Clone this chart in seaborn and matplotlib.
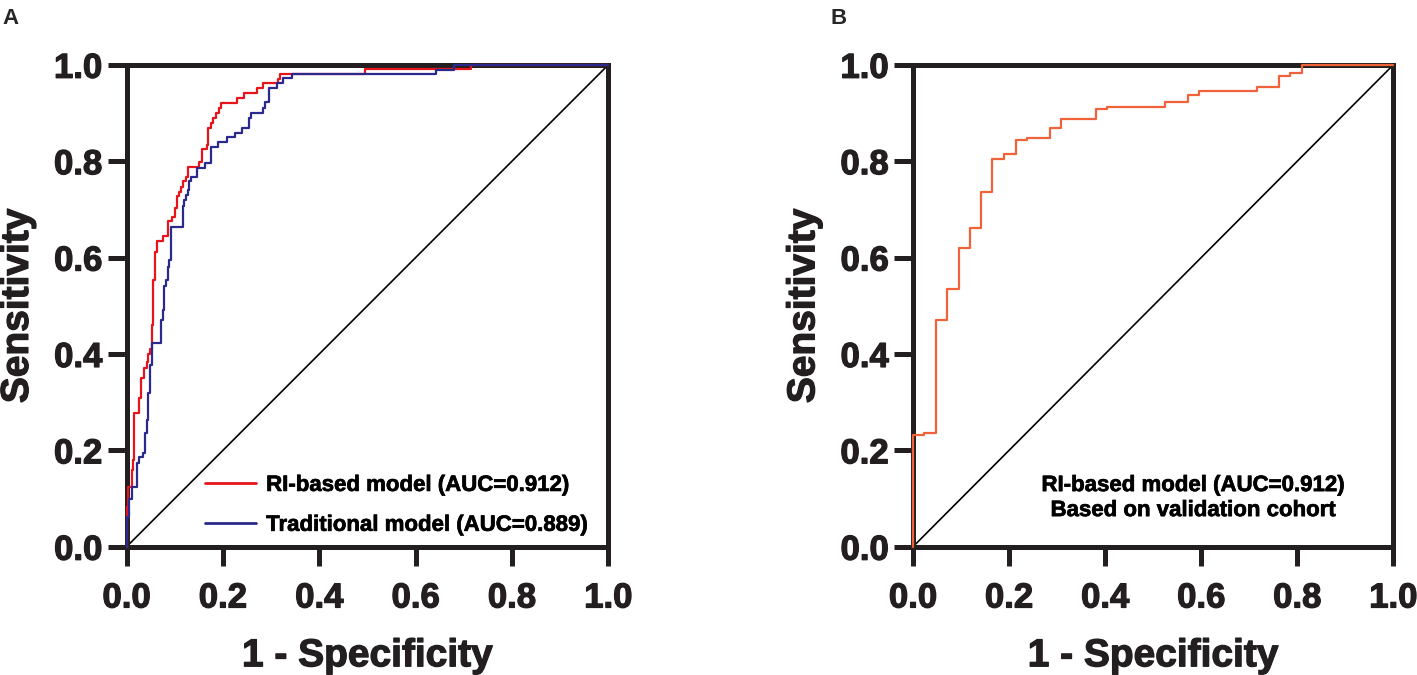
import pandas as pd
import seaborn as sns
import matplotlib.pyplot as plt
import matplotlib.patheffects as pe

# Panel A: training cohort ROC curves (1 - specificity, sensitivity at each step)
ri_fpr = [0.0, 0.0, 0.0035, 0.0104, 0.0125, 0.0153, 0.0264, 0.0291, 0.0368, 0.0416,
          0.0451, 0.0486, 0.052, 0.0555, 0.059, 0.0638, 0.0749, 0.0867, 0.0937, 0.1006,
          0.1054, 0.1089, 0.1131, 0.1165, 0.1235, 0.127, 0.1505, 0.1561, 0.1665, 0.170,
          0.1755, 0.1804, 0.1859, 0.1915, 0.1956, 0.229, 0.244, 0.2705, 0.2823, 0.3143,
          0.319, 0.494, 0.716, 1.0]
ri_tpr = [0.0, 0.083, 0.125, 0.16, 0.18, 0.277, 0.308, 0.35, 0.37, 0.384,
          0.40, 0.41, 0.46, 0.554, 0.612, 0.635, 0.645, 0.675, 0.685, 0.702,
          0.727, 0.737, 0.747, 0.758, 0.768, 0.787, 0.799, 0.826, 0.834, 0.869,
          0.879, 0.889, 0.901, 0.910, 0.920, 0.931, 0.941, 0.952, 0.962, 0.970,
          0.981, 0.991, 1.0, 1.0]

trad_fpr = [0.0, 0.0014, 0.0055, 0.0104, 0.0222, 0.0264, 0.0347, 0.0382, 0.0416, 0.0451,
            0.0486, 0.052, 0.0715, 0.0749, 0.0784, 0.0819, 0.086, 0.0888, 0.0916, 0.1165,
            0.12, 0.1235, 0.127, 0.1304, 0.1332, 0.1457, 0.163, 0.1755, 0.1908, 0.2095,
            0.2255, 0.2393, 0.2532, 0.258, 0.2823, 0.2879, 0.2962, 0.3122, 0.3247, 0.3434,
            0.642, 0.679, 1.0]
trad_tpr = [0.0, 0.062, 0.10, 0.125, 0.173, 0.187, 0.194, 0.235, 0.263, 0.318,
            0.377, 0.422, 0.471, 0.491, 0.54, 0.554, 0.581, 0.595, 0.664, 0.706,
            0.72, 0.73, 0.74, 0.758, 0.767, 0.785, 0.796, 0.829, 0.839, 0.85,
            0.858, 0.869, 0.889, 0.90, 0.91, 0.922, 0.952, 0.962, 0.972, 0.981,
            0.99, 1.0, 1.0]

# Panel B: validation cohort
val_fpr = [0.0, 0.0, 0.0229, 0.0472, 0.0715, 0.0951, 0.118, 0.1424, 0.1653, 0.1896,
           0.2139, 0.2375, 0.2847, 0.309, 0.3806, 0.4042, 0.5243, 0.5715, 0.5958, 0.7153,
           0.7618, 0.7847, 0.8104, 1.0]
val_tpr = [0.0, 0.231, 0.236, 0.471, 0.535, 0.619, 0.662, 0.736, 0.804, 0.814,
           0.843, 0.849, 0.868, 0.888, 0.908, 0.913, 0.923, 0.938, 0.946, 0.953,
           0.976, 0.982, 1.0, 1.0]

ticks = [0.0, 0.2, 0.4, 0.6, 0.8, 1.0]

sns.set_style("ticks")
plt.rcParams['font.family'] = ['Liberation Sans', 'DejaVu Sans']
plt.rcParams['font.weight'] = 'bold'

ink = "#231F20"
heavy = [pe.withStroke(linewidth=0.9, foreground=ink)]

fig = plt.figure(figsize=(14.17, 6.75), dpi=100)
ax_a = fig.add_axes([0.0893, 0.190, 0.340, 0.714])
ax_b = fig.add_axes([0.6443, 0.190, 0.3390, 0.714])

df_ri = pd.DataFrame({"fpr": ri_fpr, "tpr": ri_tpr})
df_trad = pd.DataFrame({"fpr": trad_fpr, "tpr": trad_tpr})
df_val = pd.DataFrame({"fpr": val_fpr, "tpr": val_tpr})

for ax in (ax_a, ax_b):
    ax.plot([0, 1], [0, 1], color="black", lw=1.2, zorder=1)

line_kw = dict(estimator=None, sort=False, drawstyle="steps-post", lw=1.6,
               clip_on=False, zorder=5)
sns.lineplot(data=df_ri, x="fpr", y="tpr", ax=ax_a, color="#E8141C",
             label="RI-based model (AUC=0.912)", **line_kw)
sns.lineplot(data=df_trad, x="fpr", y="tpr", ax=ax_a, color="#2A2A8C",
             label="Traditional model (AUC=0.889)", **line_kw)
sns.lineplot(data=df_val, x="fpr", y="tpr", ax=ax_b, color="#F0623A", **line_kw)

for ax in (ax_a, ax_b):
    ax.set_xlim(0, 1)
    ax.set_ylim(0, 1)
    ax.set_xticks(ticks)
    ax.set_yticks(ticks)
    ax.set_xticklabels([f"{t:.1f}" for t in ticks], fontsize=25, fontweight="bold")
    ax.set_yticklabels([f"{t:.1f}" for t in ticks], fontsize=25, fontweight="bold")
    for lab in ax.get_xticklabels() + ax.get_yticklabels():
        lab.set_path_effects(heavy)
    ax.tick_params(direction="out", length=14, width=3.6, color=ink, labelcolor=ink)
    ax.tick_params(axis="x", pad=11)
    ax.tick_params(axis="y", pad=3.5)
    for s in ax.spines.values():
        s.set_linewidth(3.6)
        s.set_color(ink)
    ax.set_xlabel("1 - Specificity", fontsize=28, fontweight="bold",
                  color=ink, path_effects=heavy, va="baseline")
    ax.xaxis.set_label_coords(0.5, -0.248)
    ax.set_ylabel("Sensitivity", fontsize=28, fontweight="bold",
                  color=ink, labelpad=13, path_effects=heavy)

leg = ax_a.legend(loc="lower right", bbox_to_anchor=(0.985, -0.005), frameon=False,
                  prop={"size": 16, "weight": "bold"}, handlelength=2.3,
                  handletextpad=0.45, labelspacing=0.85, borderaxespad=0.2)
for h in leg.get_lines():
    h.set_linewidth(2.0)
for t in leg.get_texts():
    t.set_color("black")
    t.set_path_effects([pe.withStroke(linewidth=0.5, foreground="black")])

ax_b.text(0.583, 0.101, "RI-based model (AUC=0.912)\nBased on validation cohort",
          transform=ax_b.transAxes, ha="center", va="center", fontsize=16,
          fontweight="bold", color="black", linespacing=1.25,
          path_effects=[pe.withStroke(linewidth=0.5, foreground="black")])

fig.text(0.0015, 0.988, "A", fontsize=16, fontweight="bold", va="top")
fig.text(0.586, 0.988, "B", fontsize=16, fontweight="bold", va="top")

plt.savefig("out.png", dpi=100)
